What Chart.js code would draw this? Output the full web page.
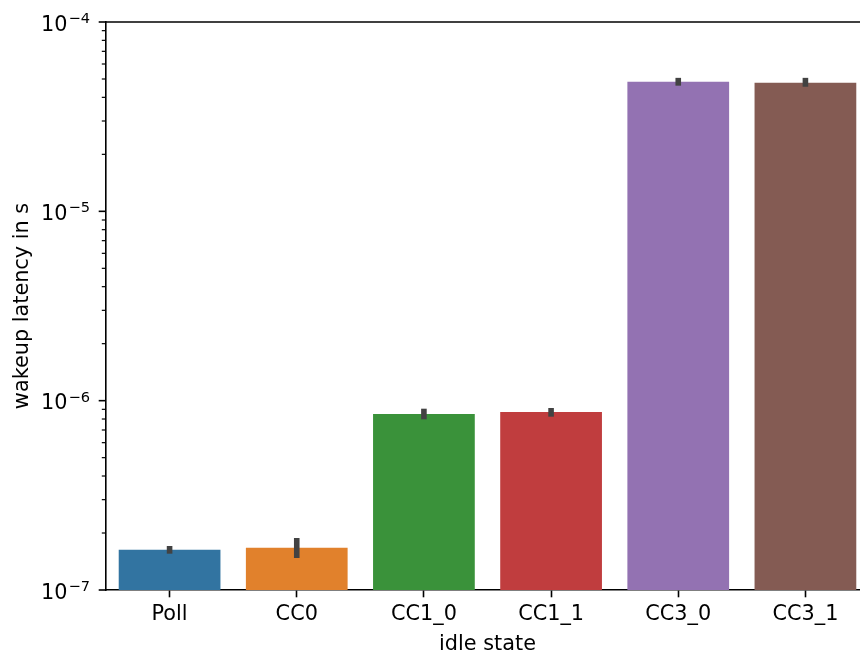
<!DOCTYPE html>
<html><head><meta charset="utf-8">
<script src="https://cdn.jsdelivr.net/npm/chart.js@4/dist/chart.umd.min.js"></script>
<style>html,body{margin:0;padding:0;overflow:hidden;background:#fff}#wrap{position:absolute;left:0;top:0;width:870px;height:655px}</style>
</head><body><div id="wrap"><canvas id="c"></canvas></div>
<script>
const categories = ['Poll', 'CC0', 'CC1_0', 'CC1_1', 'CC3_0', 'CC3_1'];
const latency = [1.63e-7, 1.67e-7, 8.5e-7, 8.72e-7, 4.83e-5, 4.78e-5];
const errLow = [1.555e-7, 1.476e-7, 7.97e-7, 8.23e-7, 4.61e-5, 4.55e-5];
const errHigh = [1.708e-7, 1.882e-7, 9.07e-7, 9.15e-7, 5.07e-5, 5.07e-5];
const barColors = ['#3274a1', '#e1812c', '#3a923a', '#c03d3e', '#9372b2', '#845b53'];
const yTickValues = [1e-7, 1e-6, 1e-5, 1e-4];
const yTickBase = ['10', '10', '10', '10'];
const yTickExp = ['\u22127', '\u22126', '\u22125', '\u22124'];
const yMinorMultipliers = [2, 3, 4, 5, 6, 7, 8, 9];

const FONT = 'DejaVu Sans';
const FS = 20.8;

const decor = {
  id: 'decor',
  afterDatasetsDraw(chart) {
    const ctx = chart.ctx, x = chart.scales.x, y = chart.scales.y;
    ctx.save();
    ctx.strokeStyle = '#424242';
    ctx.lineWidth = 5.6;
    ctx.lineCap = 'butt';
    categories.forEach((c, i) => {
      const px = x.getPixelForValue(i);
      ctx.beginPath();
      ctx.moveTo(px, y.getPixelForValue(errLow[i]));
      ctx.lineTo(px, y.getPixelForValue(errHigh[i]));
      ctx.stroke();
    });
    ctx.restore();
  },
  afterDraw(chart) {
    const ctx = chart.ctx, y = chart.scales.y, a = chart.chartArea;
    ctx.save();
    ctx.strokeStyle = '#000';
    ctx.lineWidth = 1.6;
    ctx.beginPath();
    ctx.moveTo(a.left - 0.8, a.top);
    ctx.lineTo(a.right, a.top);
    ctx.stroke();
    yTickValues.forEach((v, i) => {
      const py = y.getPixelForValue(v);
      ctx.lineWidth = 1.6;
      ctx.beginPath();
      ctx.moveTo(a.left - 7.3, py);
      ctx.lineTo(a.left, py);
      ctx.stroke();
      ctx.fillStyle = '#000';
      ctx.textBaseline = 'alphabetic';
      ctx.textAlign = 'right';
      ctx.font = '14.6px "' + FONT + '"';
      const ew = ctx.measureText(yTickExp[i]).width;
      ctx.fillText(yTickExp[i], 90, py + 1);
      ctx.font = FS + 'px "' + FONT + '"';
      ctx.fillText(yTickBase[i], 90 - ew - 1, py + 8.7);
    });
    for (let k = 0; k < yTickValues.length - 1; k++) {
      yMinorMultipliers.forEach(m => {
        const py = y.getPixelForValue(yTickValues[k] * m);
        ctx.lineWidth = 1.2;
        ctx.beginPath();
        ctx.moveTo(a.left - 4.2, py);
        ctx.lineTo(a.left, py);
        ctx.stroke();
      });
    }
    ctx.restore();
  }
};

new Chart(document.getElementById('c'), {
  type: 'bar',
  data: {
    labels: categories,
    datasets: [{
      data: latency,
      backgroundColor: barColors,
      borderWidth: 0,
      categoryPercentage: 0.8,
      barPercentage: 1.0
    }]
  },
  options: {
    responsive: true,
    maintainAspectRatio: false,
    devicePixelRatio: 1,
    animation: false,
    layout: { padding: { top: 22, right: 1, left: 0, bottom: 0 } },
    plugins: { legend: { display: false }, tooltip: { enabled: false } },
    scales: {
      x: {
        z: 1,
        grid: { display: true, drawOnChartArea: false, drawTicks: true, tickLength: 7.3, tickWidth: 1.6, tickColor: '#000', offset: false },
        border: { display: true, color: '#000', width: 1.6 },
        ticks: { color: '#000', font: { family: FONT, size: FS }, padding: 5, maxRotation: 0, autoSkip: false },
        title: { display: true, text: 'idle state', color: '#000', font: { family: FONT, size: FS, lineHeight: 1 }, padding: { top: 0, bottom: 0 } },
        afterFit(s) { s.height = 65; }
      },
      y: {
        z: 1,
        type: 'logarithmic',
        min: 1e-7,
        max: 1e-4,
        grid: { display: false },
        border: { display: true, color: '#000', width: 1.6 },
        ticks: { display: false },
        title: { display: true, text: 'wakeup latency in s', color: '#000', font: { family: FONT, size: FS, lineHeight: 1 }, padding: { top: 12, bottom: 0 } },
        afterFit(s) { s.width = 106; }
      }
    }
  },
  plugins: [decor]
});
</script>
</body></html>
